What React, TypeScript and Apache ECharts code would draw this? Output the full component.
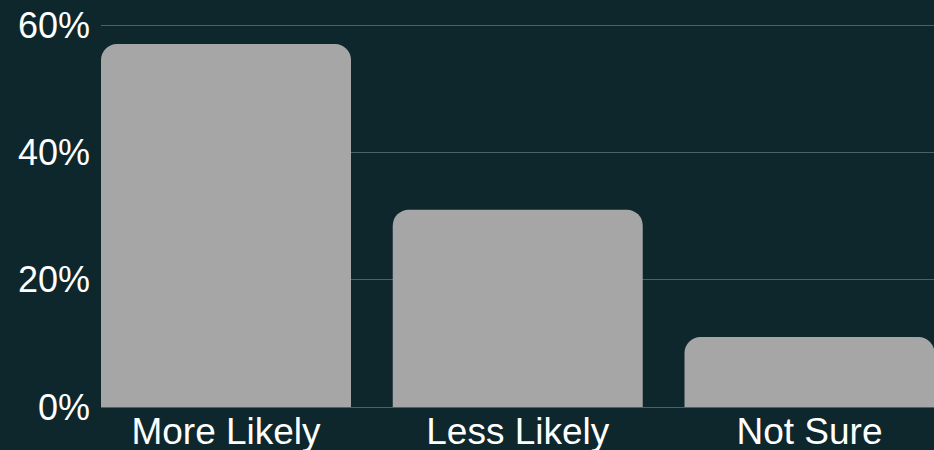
import React, { useEffect, useRef } from "react";
import * as echarts from "echarts";

const categories = ["More Likely", "Less Likely", "Not Sure"];
const values = [57, 31, 11];
const yTicks = [0, 20, 40, 60];

export default function App() {
  const ref = useRef<HTMLDivElement>(null);
  useEffect(() => {
    document.body.style.margin = "0";
    if (!ref.current) return;
    const chart = echarts.init(ref.current, undefined, { renderer: "svg" });
    const font = "'Liberation Sans', Arial, sans-serif";
    chart.setOption({
      animation: false,
      backgroundColor: "#0e272c",
      grid: [
        { left: 226, right: 124.5, top: 25, bottom: 43, containLabel: false },
        { left: 101, right: 0, top: 25, bottom: 43, containLabel: false },
      ],
      xAxis: [
        {
          type: "category",
          gridIndex: 0,
          data: categories,
          boundaryGap: false,
          axisLine: { show: false },
          axisTick: { show: false },
          splitLine: { show: false },
          axisLabel: { color: "#ffffff", fontSize: 37, fontFamily: font, margin: 6 },
        },
        {
          type: "category",
          gridIndex: 1,
          data: categories,
          show: false,
        },
      ],
      yAxis: [
        {
          type: "value",
          gridIndex: 0,
          min: 0,
          max: 60,
          interval: 20,
          show: false,
          splitLine: { show: false },
        },
        {
          type: "value",
          gridIndex: 1,
          min: yTicks[0],
          max: yTicks[yTicks.length - 1],
          interval: 20,
          axisLine: { show: false },
          axisTick: { show: false },
          axisLabel: {
            color: "#ffffff",
            fontSize: 36,
            fontFamily: font,
            margin: 11,
            formatter: (v: number) => v + "%",
          },
          splitLine: { show: true, lineStyle: { color: "#4b6368", width: 1 } },
        },
      ],
      series: [
        {
          type: "bar",
          xAxisIndex: 0,
          yAxisIndex: 0,
          data: values,
          barWidth: 250,
          clip: false,
          itemStyle: { color: "#a6a6a6", borderRadius: [16, 16, 0, 0] },
          z: 3,
        },
      ],
    });
    return () => chart.dispose();
  }, []);
  return <div ref={ref} style={{ width: 934, height: 450 }} />;
}
